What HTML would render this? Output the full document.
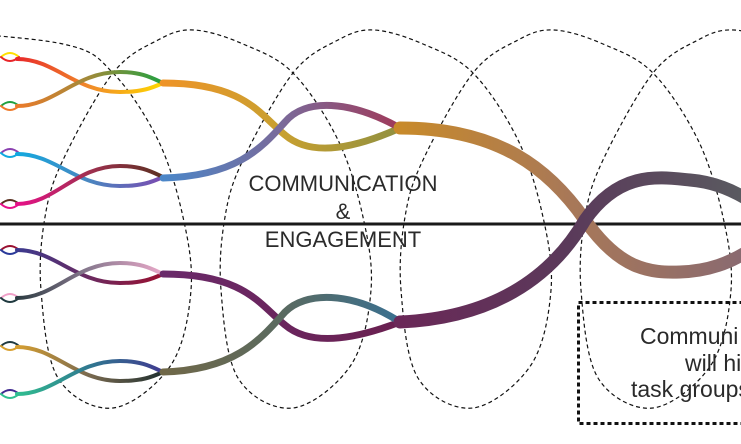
<!DOCTYPE html>
<html><head><meta charset="utf-8"><style>
html,body{margin:0;padding:0;background:#fff;width:741px;height:444px;overflow:hidden}
svg{display:block}
text{font-family:"Liberation Sans",sans-serif;fill:#2a2a2a}
</style></head><body>
<svg id="s" width="741" height="444" viewBox="0 0 741 444" xmlns="http://www.w3.org/2000/svg">
<defs>
<linearGradient id="ga" gradientUnits="userSpaceOnUse" x1="15" y1="0" x2="163" y2="0"><stop offset="0" stop-color="#e8262a"/><stop offset="0.5" stop-color="#f08a2a"/><stop offset="1" stop-color="#ffd800"/></linearGradient>
<linearGradient id="gb" gradientUnits="userSpaceOnUse" x1="15" y1="0" x2="163" y2="0"><stop offset="0" stop-color="#ee7a2a"/><stop offset="0.5" stop-color="#a08a3a"/><stop offset="1" stop-color="#22a040"/></linearGradient>
<linearGradient id="gc" gradientUnits="userSpaceOnUse" x1="15" y1="0" x2="163" y2="0"><stop offset="0" stop-color="#10aae0"/><stop offset="0.5" stop-color="#4a86c0"/><stop offset="1" stop-color="#7a4ab0"/></linearGradient>
<linearGradient id="gd" gradientUnits="userSpaceOnUse" x1="15" y1="0" x2="163" y2="0"><stop offset="0" stop-color="#e8108a"/><stop offset="0.5" stop-color="#a03050"/><stop offset="1" stop-color="#5a3020"/></linearGradient>
<linearGradient id="ge" gradientUnits="userSpaceOnUse" x1="15" y1="0" x2="163" y2="0"><stop offset="0" stop-color="#3a3a90"/><stop offset="0.5" stop-color="#6a2a60"/><stop offset="1" stop-color="#9a1030"/></linearGradient>
<linearGradient id="gf" gradientUnits="userSpaceOnUse" x1="15" y1="0" x2="163" y2="0"><stop offset="0" stop-color="#2a3a40"/><stop offset="0.5" stop-color="#8a7a90"/><stop offset="1" stop-color="#e8a8c8"/></linearGradient>
<linearGradient id="gg" gradientUnits="userSpaceOnUse" x1="15" y1="0" x2="163" y2="0"><stop offset="0" stop-color="#d8a030"/><stop offset="0.5" stop-color="#7a6a50"/><stop offset="1" stop-color="#203030"/></linearGradient>
<linearGradient id="gh" gradientUnits="userSpaceOnUse" x1="15" y1="0" x2="163" y2="0"><stop offset="0" stop-color="#30c090"/><stop offset="0.5" stop-color="#307890"/><stop offset="1" stop-color="#403a90"/></linearGradient>
<linearGradient id="gm1" gradientUnits="userSpaceOnUse" x1="163" y1="0" x2="400" y2="0"><stop offset="0" stop-color="#ee9428"/><stop offset="0.5" stop-color="#c8a030"/><stop offset="1" stop-color="#909040"/></linearGradient>
<linearGradient id="gm2" gradientUnits="userSpaceOnUse" x1="163" y1="0" x2="400" y2="0"><stop offset="0" stop-color="#4a86c8"/><stop offset="0.5" stop-color="#7a6a9a"/><stop offset="1" stop-color="#a03a5a"/></linearGradient>
<linearGradient id="gm3" gradientUnits="userSpaceOnUse" x1="163" y1="0" x2="400" y2="0"><stop offset="0" stop-color="#6a2a6a"/><stop offset="1" stop-color="#6a2050"/></linearGradient>
<linearGradient id="gm4" gradientUnits="userSpaceOnUse" x1="163" y1="0" x2="400" y2="0"><stop offset="0" stop-color="#706848"/><stop offset="0.5" stop-color="#5a6a60"/><stop offset="1" stop-color="#3a7090"/></linearGradient>
<linearGradient id="gb1" gradientUnits="userSpaceOnUse" x1="400" y1="0" x2="741" y2="0"><stop offset="0" stop-color="#c88a2a"/><stop offset="0.5" stop-color="#a87858"/><stop offset="1" stop-color="#8a6a70"/></linearGradient>
<linearGradient id="gb2" gradientUnits="userSpaceOnUse" x1="400" y1="0" x2="741" y2="0"><stop offset="0" stop-color="#6a2858"/><stop offset="0.5" stop-color="#5a3a5a"/><stop offset="1" stop-color="#5a5a60"/></linearGradient>
</defs>
<path id="dash" fill="none" stroke="#111" stroke-width="1.2" stroke-dasharray="4,3"/>
<line x1="0" y1="224" x2="741" y2="224" stroke="#1a1a1a" stroke-width="3"/>
<g id="strands" fill="none" stroke-linecap="round"></g>
<rect x="578.5" y="302.5" width="180" height="121" fill="none" stroke="#111" stroke-width="3" stroke-dasharray="4,3"/>
<text x="343" y="191" font-size="22" text-anchor="middle">COMMUNICATION</text>
<text x="343" y="219" font-size="22" text-anchor="middle">&amp;</text>
<text x="343" y="247" font-size="22" text-anchor="middle">ENGAGEMENT</text>
<text x="640" y="344" font-size="23">Communi</text>
<text x="685" y="371" font-size="23">will hi</text>
<text x="631" y="397" font-size="23">task groups</text>
</svg>
<script>
(function(){
function cr(pts){var d="M"+pts[0][0]+","+pts[0][1];
for(var i=0;i<pts.length-1;i++){var p0=pts[i-1]||pts[i],p1=pts[i],p2=pts[i+1],p3=pts[i+2]||p2;
var c1=[p1[0]+(p2[0]-p0[0])/6,p1[1]+(p2[1]-p0[1])/6],c2=[p2[0]-(p3[0]-p1[0])/6,p2[1]-(p3[1]-p1[1])/6];
d+=" C"+c1[0].toFixed(1)+","+c1[1].toFixed(1)+" "+c2[0].toFixed(1)+","+c2[1].toFixed(1)+" "+p2[0]+","+p2[1];}
return d;}
var pts=[[-80,30]];
[113,293,473,653,833].forEach(function(b,i){
 var seg=[[b-99,30],[b-50,44],[b,73],[b+45,140],[b+70,217],[b+78,290],[b+58,365],[b,408],[b-55,378],[b-72,290],[b-68,217],[b-50,160],[b,73],[b+45,40]];
 if(i==0)seg.shift();
 pts=pts.concat(seg);});
pts.push([920,30]);
document.getElementById("dash").setAttribute("d",cr(pts));
var g=document.getElementById("strands"),h="";
function P(d,c,w){h+='<path d="'+d+'" stroke="'+c+'" stroke-width="'+w+'"/>';}
[[57,"#ffe000","#e8262a"],[106,"#20a040","#ee7a2a"],[153,"#8a40b0","#10aae0"],[204,"#5a3020","#e8108a"],[250,"#9a1030","#2a3a9a"],[298,"#f0a0c8","#203a40"],[346,"#203a40","#d8a030"],[394,"#402a90","#30c090"]].forEach(function(a){
 P("M1,"+a[0]+" Q10,"+(a[0]-8)+" 19,"+a[0],a[1],2);P("M1,"+a[0]+" Q10,"+(a[0]+8)+" 19,"+a[0],a[2],2);});
[[59,106,83,"ga","gb"],[154,204,177,"gc","gd"],[250,298,274,"ge","gf"],[347,394,372,"gg","gh"]].forEach(function(a){
 var t=a[0],b=a[1],m=a[2];
 P("M17,"+t+" C55,"+t+" 75,"+(m+9)+" 120,"+(m+9)+" C142,"+(m+9)+" 152,"+(m+5)+" 163,"+m,"url(#"+a[3]+")",4);
 P("M17,"+b+" C55,"+b+" 75,"+(m-11)+" 120,"+(m-11)+" C142,"+(m-11)+" 152,"+(m-5)+" 163,"+m,"url(#"+a[4]+")",4);});
P("M163,83 C245,83 260,115 285,135 C305,152 340,155 400,128","url(#gm1)",7);
P("M163,178 C235,176 260,150 285,122 C305,98 350,100 400,128","url(#gm2)",7);
P("M163,274 C245,274 260,305 285,325 C305,342 340,345 400,322","url(#gm3)",7);
P("M163,372 C235,370 260,340 285,312 C305,292 350,290 400,322","url(#gm4)",7);
P("M400,128 C500,128 550,170 585,220 C620,270 650,273 680,272 C710,271 730,262 745,253","url(#gb1)",13);
P("M400,322 C490,318 550,280 585,220 C620,170 660,177 690,180 C715,182 735,192 745,198","url(#gb2)",13);
g.innerHTML=h;
})();
</script>
</body></html>
